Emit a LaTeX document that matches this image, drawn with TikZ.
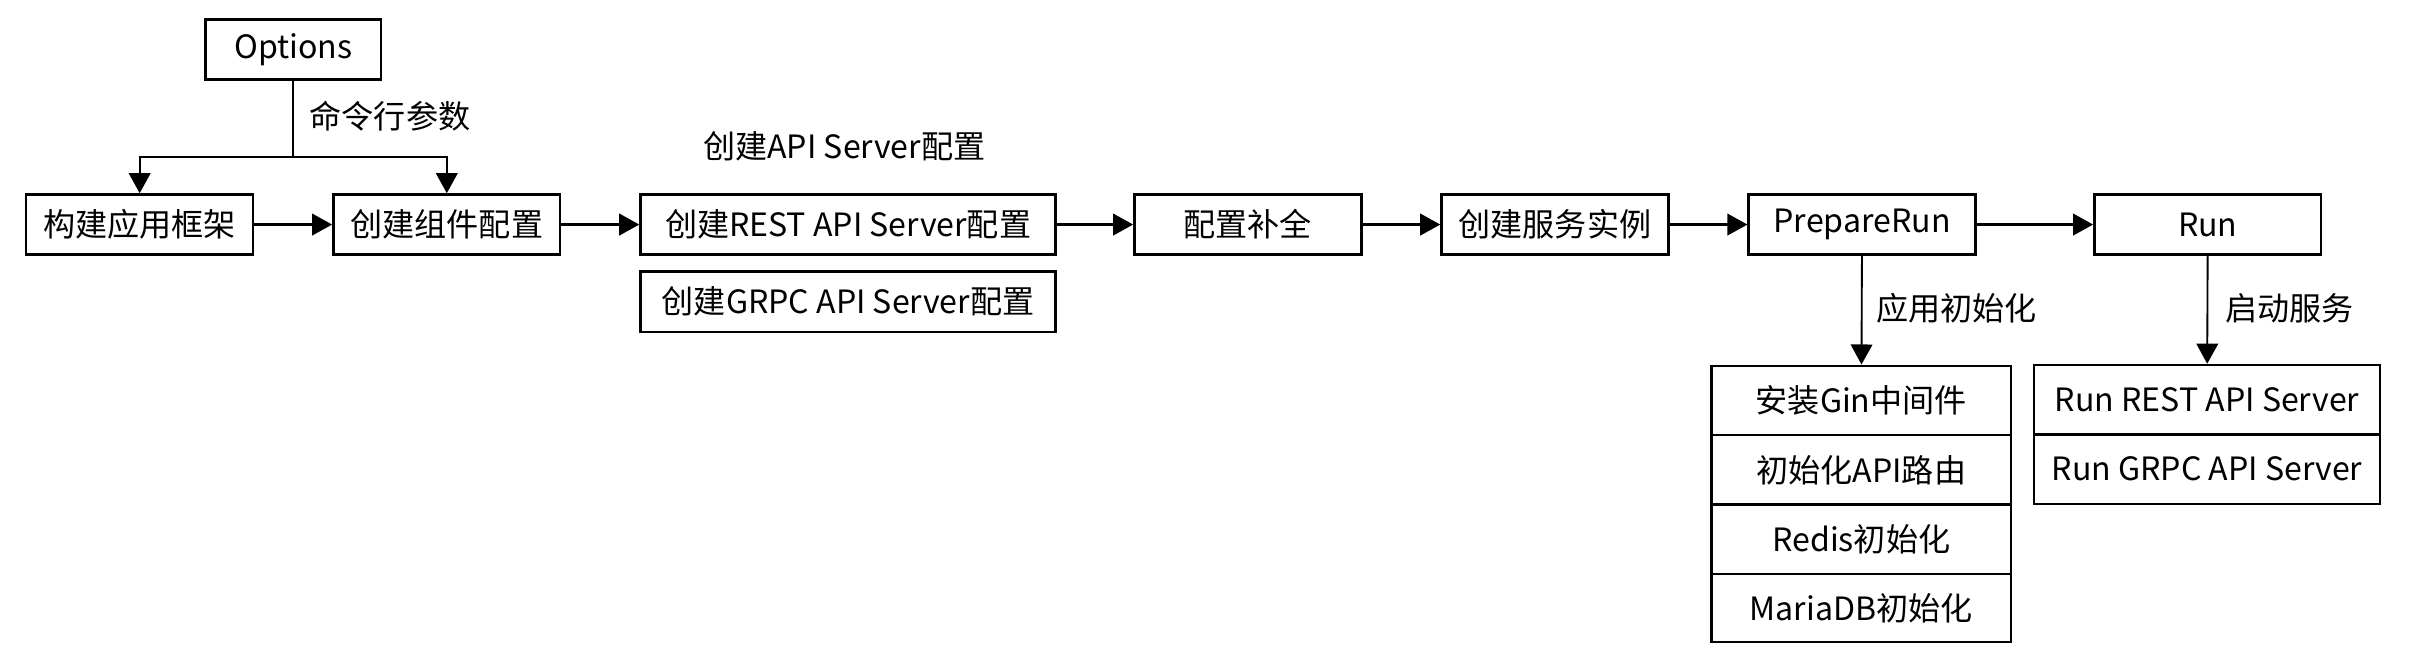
\documentclass[tikz,border=0pt]{standalone}
\usepackage{fontspec}
\setmainfont{Noto Sans CJK SC}
\usetikzlibrary{arrows.meta}
\begin{document}
\begin{tikzpicture}
[x=0.5pt, y=-0.5pt, font=\fontsize{10.4pt}{12pt}\selectfont,
 box/.style={draw=black, line width=0.8pt, minimum width=73.5pt, minimum height=19.5pt, inner sep=0pt},
 wide/.style={box, minimum width=134.5pt},
 stack/.style={box, minimum width=97pt, minimum height=22.5pt},
 runstack/.style={box, minimum width=112pt, minimum height=22.5pt},
 >={Triangle[length=6.5pt, width=7pt]}, line width=0.7pt]
\useasboundingbox (0,0) rectangle (1568,426.3);
\node (Opt) at (190,32) [box, minimum width=57pt] {Options};
\node (App) at (90.5,145.5) [box] {构建应用框架};
\node (Comp) at (289.5,145.5) [box] {创建组件配置};
\node (REST) at (549.5,145.5) [wide] {创建REST API Server配置};
\node (GRPC) at (549.5,195.5) [wide] {创建GRPC API Server配置};
\node (Fill) at (808.5,145.5) [box] {配置补全};
\node (Inst) at (1007.5,145.5) [box] {创建服务实例};
\node (Prep) at (1206.5,145.5) [box] {PrepareRun};
\node (Run) at (1430.5,145.5) [box] {Run};

\node (Gin) at (1206,259.5) [stack] {安装Gin中间件};
\node (Route) at (1206,304.5) [stack] {初始化API路由};
\node (Redis) at (1206,349.5) [stack] {Redis初始化};
\node (Maria) at (1206,394) [stack, minimum height=22pt] {MariaDB初始化};
\node (RunREST) at (1430,259) [runstack] {Run REST API Server};
\node (RunGRPC) at (1430,304) [runstack] {Run GRPC API Server};

\node (ArgLbl) at (200,75) [anchor=west, inner sep=0pt] {命令行参数};
\node (CfgLbl) at (547,95) [inner sep=0pt] {创建API Server配置};
\node (InitLbl) at (1215,200) [anchor=west, inner sep=0pt] {应用初始化};
\node (StartLbl) at (1441,200) [anchor=west, inner sep=0pt] {启动服务};

\coordinate (Split) at (190,102);
\draw[line width=0.6pt] (Opt) -- (Split);
\draw[->, line width=0.6pt] (Split) -| (App);
\draw[->, line width=0.6pt] (Split) -| (Comp);
\draw[->] (App) -- (Comp);
\draw[->] (Comp) -- (REST);
\draw[->] (REST) -- (Fill);
\draw[->] (Fill) -- (Inst);
\draw[->] (Inst) -- (Prep);
\draw[->] (Prep) -- (Run);
\draw[->, line width=0.6pt] (Prep) -- (Gin);
\draw[->, line width=0.6pt] (Run) -- (RunREST);
\end{tikzpicture}
\end{document}
